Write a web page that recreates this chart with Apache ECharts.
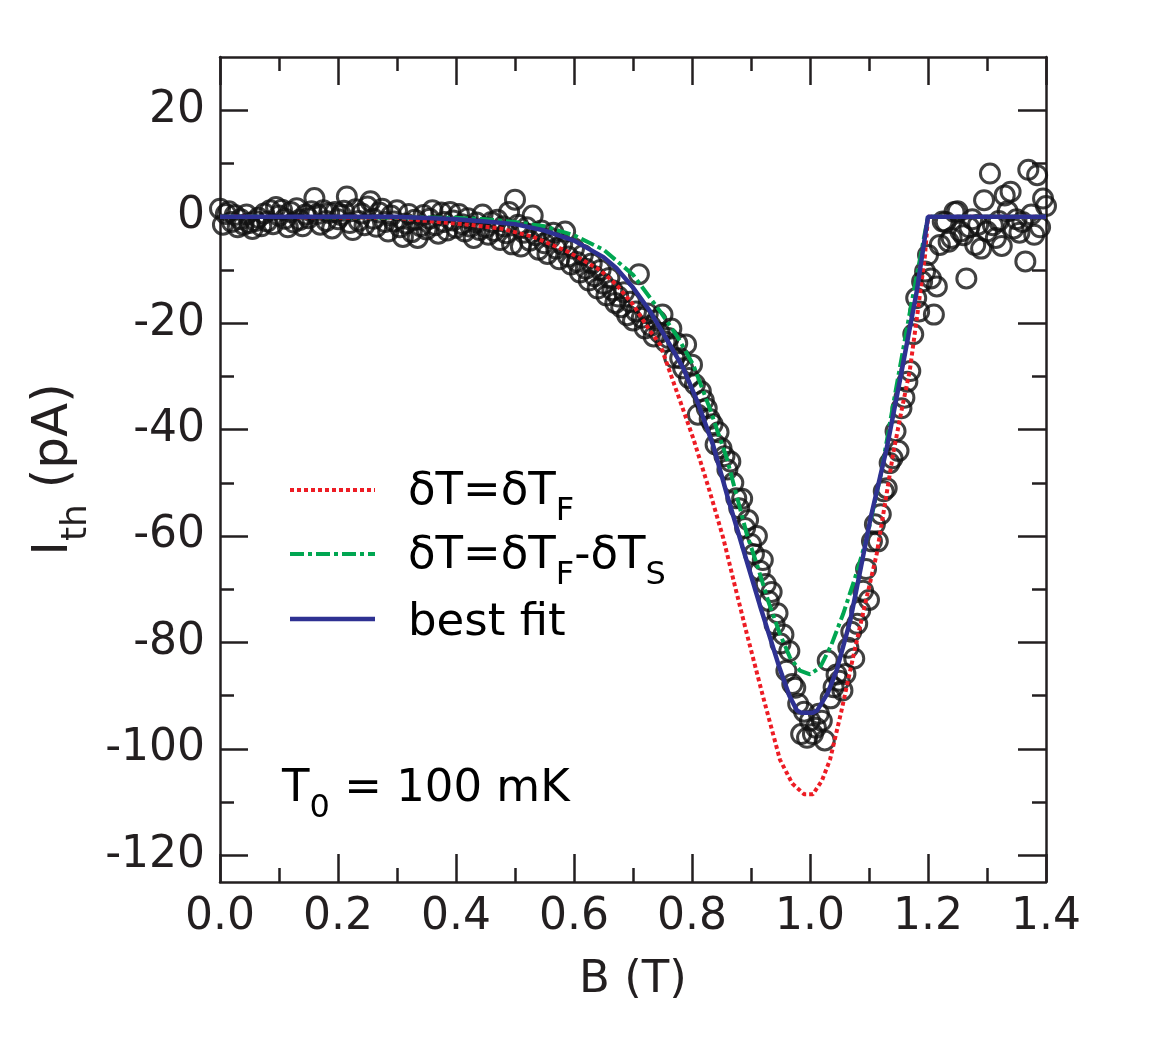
<!DOCTYPE html>
<html>
<head>
<meta charset="utf-8">
<script src="https://cdn.jsdelivr.net/npm/echarts@6/dist/echarts.min.js"></script>
<style>
html,body{margin:0;padding:0;background:#fff}
#chart{width:1159px;height:1048px}
</style>
</head>
<body>
<div id="chart"></div>
<script>
// measured points, one every 5 mT starting at B = 0
var B_STEP = 0.005;
var measI = [
  1.5, -1.5, 0.5, 1.0, -1.0, 0.3, -2.0, -0.5, -1.5, 0.4, -1.2, -2.3, -0.8, -0.2, -1.8, 0.6, -0.9, 1.2, -1.4, 1.8,
  0.2, 1.3, -0.4, -2.0, 0.9, -1.1, 1.6, -0.6, -1.8, 0.4, -0.3, 1.0, 3.5, 0.5, -1.5, 1.2, -0.8, 0.7, -2.2, 0.9,
  -0.5, 0.3, 1.1, 3.8, -1.2, -2.5, 1.4, -0.8, 0.6, -1.6, 1.9, 2.9, -0.4, -1.9, 0.8, 1.5, -1.0, -2.8, 0.2, -0.9,
  1.2, -2.0, -3.8, -1.3, 0.5, -2.9, -0.6, -4.0, -1.8, 0.3, -2.4, -0.4, 1.2, -1.6, -3.2, 0.8, -1.0, -2.6, 0.9, -0.7,
  -2.1, 0.5, -1.4, -2.8, -0.3, -1.9, -4.0, -1.1, -2.5, 0.4, -2.0, -3.4, -1.0, -2.7, -0.6, -4.4, -1.8, -3.1, 0.9, -5.2,
  3.2, -1.5, -5.6, -3.0, -2.0, -4.5, 0.2, -3.5, -6.2, -2.6, -5.0, -7.0, -4.0, -3.0, -6.0, -8.0, -5.2, -2.8, -7.5, -9.0,
  -6.0, -8.5, -10.5, -7.2, -9.8, -12.0, -8.8, -11.2, -13.5, -10.0, -12.6, -14.8, -11.5, -13.8, -16.2, -15.0, -17.0, -14.2, -18.5, -16.0,
  -19.5, -17.8, -10.8, -19.0, -21.0, -18.2, -20.5, -22.5, -19.5, -21.8, -18.4, -23.5, -22.8, -21.0, -26.5, -23.8, -26.6, -28.5, -24.0, -30.3,
  -27.8, -31.5, -37.2, -32.8, -34.5, -36.0, -38.0, -39.0, -42.8, -40.5, -43.5, -45.0, -47.5, -46.0, -50.0, -52.9, -54.8, -53.0, -58.5, -57.0,
  -61.5, -63.4, -60.0, -66.5, -64.5, -69.0, -72.2, -70.5, -76.6, -74.5, -80.2, -78.5, -85.3, -81.6, -87.8, -88.5, -91.5, -97.2, -93.0, -97.9,
  -94.7, -97.2, -96.0, -93.4, -94.7, -98.4, -83.4, -90.5, -88.4, -86.0, -87.2, -89.0, -85.9, -81.0, -78.0, -83.0, -76.5, -74.0, -70.3, -66.2,
  -72.0, -61.0, -57.8, -61.0, -55.9, -51.6, -51.0, -46.3, -45.4, -40.3, -44.0, -36.0, -34.0, -31.0, -29.0, -22.1, -15.3, -17.8, -12.2, -10.3,
  -7.2, -11.6, -18.4, -13.1, -5.3, -0.9, -1.0, -4.7, -4.0, 0.9, 1.0, -2.8, -3.5, -11.6, -2.0, -0.5, -5.3, -1.5, -6.0, 3.1,
  -2.8, 8.1, -1.6, -4.0, -0.8, -5.5, 4.0, 1.0, 4.7, -2.2, -0.5, -3.0, -1.0, -8.4, 8.8, 0.4, -3.4, 7.8, -2.0, 3.4,
  2.0
];

// dT = dT_F  (red dotted)
var fB = [0, 0.30, 0.36, 0.42, 0.475, 0.53, 0.59, 0.644, 0.672, 0.70, 0.729, 0.746, 0.774, 0.802, 0.83, 0.853, 0.873, 0.893, 0.92, 0.949, 0.97, 0.99, 1.005, 1.02, 1.034, 1.053, 1.073, 1.093, 1.113, 1.127, 1.141, 1.155, 1.169, 1.183, 1.195, 1.2, 1.4];
var fI = [0, -0.2, -0.9, -1.5, -2.2, -3.75, -6.6, -10.0, -12.8, -16.5, -21.5, -24.0, -32.8, -41.6, -51.6, -60.4, -69.5, -78.4, -90.0, -102.0, -106.5, -108.5, -108.5, -106.0, -102.0, -93.0, -82.8, -73.0, -63.4, -54.0, -44.5, -36.5, -29.0, -17.5, -7.2, 0, 0];

// dT = dT_F - dT_S  (green dash-dot)
var fsB = [0, 0.40, 0.45, 0.50, 0.55, 0.60, 0.65, 0.70, 0.746, 0.775, 0.802, 0.83, 0.859, 0.893, 0.91, 0.93, 0.949, 0.966, 0.983, 1.0, 1.017, 1.036, 1.056, 1.076, 1.096, 1.12, 1.141, 1.17, 1.2, 1.4];
var fsI = [0, -0.2, -0.5, -1.0, -1.8, -3.5, -6.2, -10.9, -17.8, -22.5, -27.8, -36.0, -45.4, -59.7, -65.3, -72.5, -78.4, -82.8, -85.3, -86.0, -84.7, -80.5, -74.7, -68.0, -60.5, -48.5, -35.3, -17.5, 0, 0];

// best fit (blue)
var bestB = [0, 0.30, 0.40, 0.45, 0.50, 0.55, 0.60, 0.65, 0.672, 0.70, 0.729, 0.757, 0.785, 0.81, 0.836, 0.86, 0.886, 0.915, 0.932, 0.949, 0.965, 0.978, 0.985, 1.005, 1.012, 1.03, 1.045, 1.068, 1.085, 1.102, 1.13, 1.153, 1.181, 1.2, 1.4];
var bestI = [0, 0, -0.5, -0.9, -1.4, -2.6, -4.5, -7.6, -9.7, -13.3, -17.8, -23.0, -28.4, -35.0, -43.0, -52.5, -62.2, -73.0, -79.0, -85.0, -90.0, -92.8, -93.2, -93.2, -92.8, -89.5, -85.3, -76.0, -66.6, -57.0, -43.5, -30.4, -14.0, 0, 0];

var yMajorTicks = [-120, -100, -80, -60, -40, -20, 0, 20];
var yMinorTicks = [-110, -90, -70, -50, -30, -10, 10];

var INK = '#231f20';
var RED = '#ed1c24';
var GREEN = '#00a651';
var BLUE = '#2e3192';
var FONT = 'DejaVu Sans';

function pairs(xs, ys) {
  var out = [];
  for (var k = 0; k < xs.length; k++) out.push([xs[k], ys[k]]);
  return out;
}
var measData = measI.map(function (v, i) { return [+(i * B_STEP).toFixed(3), v]; });

// main text + lowered subscript (sub pushed down by its top padding)
function subRich(size, subSize, drop) {
  return {
    m: { fontFamily: FONT, fontSize: size, color: INK, lineHeight: size + 13, verticalAlign: 'top' },
    s: { fontFamily: FONT, fontSize: subSize, color: INK, verticalAlign: 'top', padding: [drop, 0, 0, 0] }
  };
}
var textRich = subRich(45, 32, 26);

var tickLine = { color: INK, width: 2.5 };

function xAxisCfg(pos, showLabel) {
  return {
    type: 'value', position: pos, min: 0, max: 1.4, interval: 0.2,
    axisLine: { show: true, onZero: false, lineStyle: tickLine },
    axisTick: { show: true, inside: true, length: 28, lineStyle: tickLine },
    minorTick: { show: true, splitNumber: 2, length: 14, lineStyle: tickLine },
    splitLine: { show: false }, minorSplitLine: { show: false },
    axisLabel: {
      show: showLabel, fontFamily: FONT, fontSize: 44, color: INK, margin: 14,
      formatter: function (v) { return v.toFixed(1); }
    }
  };
}
function yAxisCfg(pos, major, showLine, showLabel) {
  return {
    type: 'value', position: pos, min: -125, max: 30,
    axisLine: { show: showLine, onZero: false, lineStyle: tickLine },
    axisTick: { show: true, inside: true, length: major ? 28 : 14, lineStyle: tickLine,
      customValues: major ? yMajorTicks : yMinorTicks },
    splitLine: { show: false },
    axisLabel: { show: showLabel, fontFamily: FONT, fontSize: 44, color: INK, margin: 15,
      customValues: yMajorTicks }
  };
}

var xBottom = xAxisCfg('bottom', true);
xBottom.name = 'B (T)';
xBottom.nameLocation = 'middle';
xBottom.nameGap = 76;
xBottom.nameTextStyle = { fontFamily: FONT, fontSize: 45, color: INK };

var yLeft = yAxisCfg('left', true, true, true);
yLeft.name = '{m|I}{s|th}{m| (pA)}';
yLeft.nameLocation = 'middle';
yLeft.nameGap = 112;
yLeft.nameTextStyle = { rich: subRich(50, 36, 29) };

var legendItems = [
  { y: 490, dy: 9, color: RED, width: 4, dash: [4, 3], label: '{m|δT=δT}{s|F}' },
  { y: 554, dy: 9, color: GREEN, width: 4, dash: [14, 4, 4, 4], label: '{m|δT=δT}{s|F}{m|-δT}{s|S}' },
  { y: 619, dy: 11, color: BLUE, width: 4.5, dash: null, label: '{m|best fit}' }
];
var graphics = [];
legendItems.forEach(function (it) {
  graphics.push({
    type: 'line', silent: true,
    shape: { x1: 290, y1: it.y, x2: 375, y2: it.y },
    style: { stroke: it.color, lineWidth: it.width, lineDash: it.dash }
  });
  graphics.push({
    type: 'text', silent: true, x: 408, y: it.y + it.dy,
    style: { text: it.label, rich: textRich, verticalAlign: 'middle', align: 'left' }
  });
});
graphics.push({
  type: 'text', silent: true, x: 282, y: 796,
  style: { text: '{m|T}{s|0}{m| = 100 mK}', rich: textRich, verticalAlign: 'middle', align: 'left' }
});

var chart = echarts.init(document.getElementById('chart'), null, { renderer: 'canvas' });
chart.setOption({
  animation: false,
  backgroundColor: '#fff',
  grid: { left: 220, right: 113, top: 57, bottom: 166, containLabel: false },
  xAxis: [xBottom, xAxisCfg('top', false)],
  yAxis: [
    yLeft,
    yAxisCfg('left', false, false, false),
    yAxisCfg('right', true, true, false),
    yAxisCfg('right', false, false, false)
  ],
  graphic: graphics,
  series: [
    {
      name: 'data', type: 'scatter', data: measData, z: 2,
      symbol: 'circle', symbolSize: 19,
      itemStyle: { color: 'rgba(0,0,0,0)', borderColor: '#111', borderWidth: 3 }
    },
    {
      name: 'δT=δTF', type: 'line', data: pairs(fB, fI), z: 3,
      symbol: 'none', lineStyle: { color: RED, width: 4, type: [4, 3] }
    },
    {
      name: 'δT=δTF-δTS', type: 'line', data: pairs(fsB, fsI), z: 4,
      symbol: 'none', lineStyle: { color: GREEN, width: 4, type: [14, 4, 4, 4] }
    },
    {
      name: 'best fit', type: 'line', data: pairs(bestB, bestI), z: 5,
      symbol: 'none', lineStyle: { color: BLUE, width: 4.5 }
    }
  ]
});
</script>
</body>
</html>
